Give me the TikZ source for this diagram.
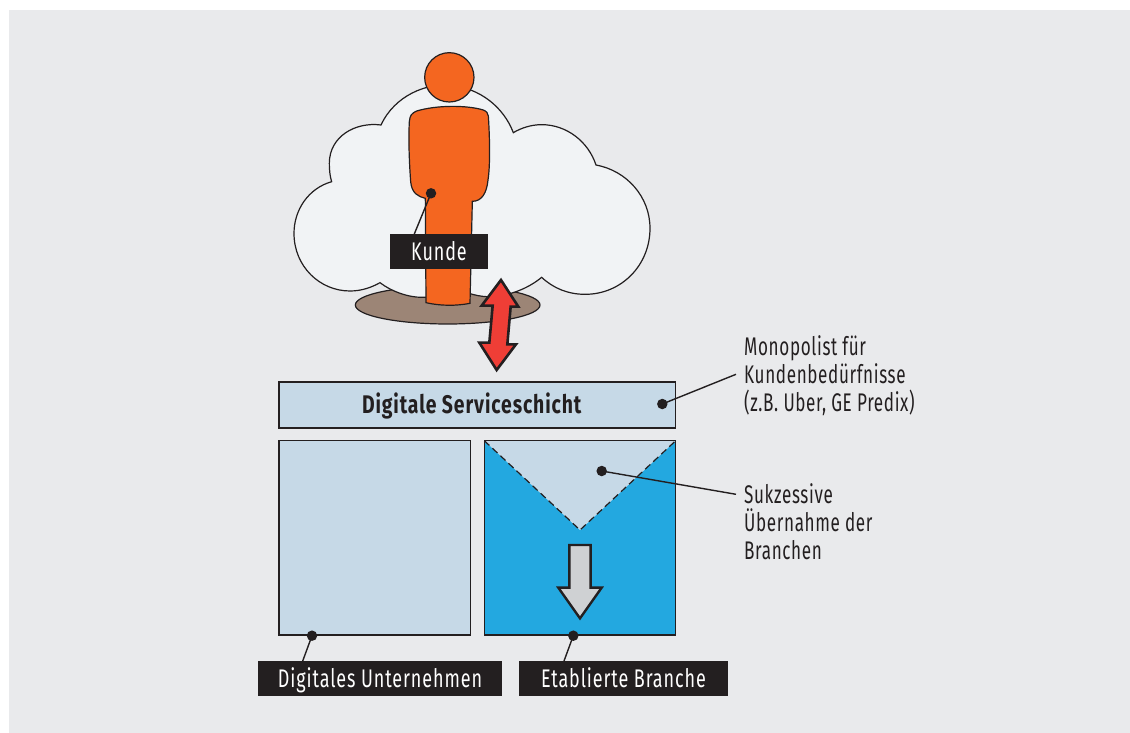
\documentclass[tikz,border=0pt]{standalone}
\usepackage{fontspec}
\setmainfont[FakeStretch=0.705,LetterSpace=3.5]{Fira Sans}
\newfontfamily\notefont[FakeStretch=0.67,LetterSpace=2.5]{Fira Sans}
\newfontfamily\headfont[FakeStretch=0.76,LetterSpace=3.5]{Fira Sans}
\definecolor{bgc}{HTML}{E9EAEC}
\definecolor{cloudc}{HTML}{F1F3F5}
\definecolor{orangec}{HTML}{F46620}
\definecolor{brownc}{HTML}{9C8576}
\definecolor{redc}{HTML}{EF3E36}
\definecolor{darkc}{HTML}{231F20}
\definecolor{paleb}{HTML}{C6D9E7}
\definecolor{blueb}{HTML}{23A8E0}
\definecolor{greyc}{HTML}{CFD1D3}
\tikzset{
  shapeline/.style={draw=darkc,line width=1.2pt},
  panel/.style={shapeline,fill=paleb},
  blackbox/.style={fill=darkc,text=white,inner sep=0pt,text height=21pt,text depth=3pt,font=\fontsize{25.5}{28}\selectfont},
  leader/.style={draw=darkc,line width=1.4pt},
  dotm/.style={circle,fill=darkc,inner sep=0pt,minimum size=10.5pt},
  note/.style={anchor=north west,inner sep=0pt,align=left,text=darkc,font=\notefont\fontsize{25.5}{28}\selectfont},
  zoomed/.style={shift={(280,30)},x=0.33333pt,y=-0.33333pt},
}
\begin{document}
\begin{tikzpicture}[x=1pt,y=-1pt]
\useasboundingbox (0,0) rectangle (1130,733);
\fill[bgc] (9,10) rectangle (1130,733);
\begin{scope}[zoomed]
  \draw[shapeline,fill=brownc] (503,825) ellipse [x radius=277,y radius=57];
  % cloud
  \draw[shapeline,fill=cloudc]
    (303,285) .. controls (225,275) and (148,320) .. (148,400)
    .. controls (148,420) and (150,440) .. (155,455)
    .. controls (85,475) and (42,540) .. (42,610)
    .. controls (42,710) and (120,783) .. (210,783)
    .. controls (245,783) and (275,772) .. (300,758)
    .. controls (335,785) and (385,802) .. (425,802)
    .. controls (460,802) and (500,790) .. (530,775)
    .. controls (560,790) and (600,802) .. (635,800)
    .. controls (690,797) and (745,775) .. (785,742)
    .. controls (820,775) and (865,793) .. (915,793)
    .. controls (1025,793) and (1110,705) .. (1110,595)
    .. controls (1110,500) and (1040,422) .. (948,405)
    .. controls (925,335) and (860,284) .. (785,284)
    .. controls (755,284) and (725,293) .. (700,308)
    .. controls (670,230) and (600,175) .. (510,165)
    .. controls (440,160) and (345,195) .. (303,285) -- cycle;
  % person
  \draw[shapeline,fill=orangec]
    (388,275) .. controls (390,255) and (395,250) .. (410,243)
    .. controls (470,225) and (560,225) .. (610,240)
    .. controls (620,244) and (624,250) .. (625,258)
    .. controls (628,300) and (632,400) .. (624,450)
    .. controls (620,490) and (605,514) .. (577,514)
    -- (570,820) .. controls (530,828) and (480,828) .. (438,818)
    -- (436,505) .. controls (415,500) and (395,490) .. (392,455)
    .. controls (388,400) and (385,330) .. (388,275) -- cycle;
  \draw[shapeline,fill=orangec] (508,142) circle [radius=74];
  % red double arrow
  \draw[draw=darkc,fill=redc,line width=2.6pt,miter limit=6]
    (663,750) -- (715,830) -- (692,830) -- (682,943) -- (708,943) -- (650,1020)
    -- (598,938) -- (628,938) -- (638,827) -- (605,827) -- cycle;
\end{scope}
% panels
\node[panel,anchor=north west,minimum width=396.5pt,minimum height=46pt,inner sep=0pt,outer sep=0pt] (service) at (279,382) {};
\node[inner sep=0pt,text=darkc,anchor=base,font=\headfont\bfseries\fontsize{25.5}{28}\selectfont] (servicetext) at (471.7,413) {Digitale Serviceschicht};
\node[panel,anchor=north west,minimum width=191.3pt,minimum height=194.3pt,inner sep=0pt,outer sep=0pt] (digital) at (279,440.7) {};
\node[shapeline,fill=blueb,anchor=north west,minimum width=191.4pt,minimum height=194.3pt,inner sep=0pt,outer sep=0pt] (branche) at (484.3,440.7) {};
\fill[paleb] (484.3,440.7) -- (675.7,440.7) -- (580,530) -- cycle;
\draw[draw=darkc,line width=1.2pt,dash pattern=on 7pt off 4pt] (484.3,440.7) -- (580,530) -- (675.7,440.7);
\draw[shapeline] (484.3,440.7) rectangle (675.7,635);
% grey arrow
\begin{scope}[shift={(250,430)},x=0.33333pt,y=-0.33333pt]
  \draw[draw=darkc,fill=greyc,line width=2.4pt,miter limit=6]
    (958,345) -- (1022,345) -- (1022,473) -- (1055,473) -- (990,565) -- (925,473) -- (958,473) -- cycle;
\end{scope}
% labels
\node[blackbox,minimum width=98pt,minimum height=35pt] (kunde) at (439,251.5) {Kunde};
\node[blackbox,minimum width=244pt,minimum height=35pt] (dunt) at (380,678.3) {Digitales Unternehmen};
\node[blackbox,minimum width=209pt,minimum height=35pt] (ebr) at (623.4,678.3) {Etablierte Branche};
\node[note] (monotext) at (744,335.5) {Monopolist für\\Kundenbedürfnisse\\(z.B. Uber, GE Predix)};
\node[note] (suktext) at (744,483) {Sukzessive\\Übernahme der\\Branchen};
% dots and leaders
\node[dotm] (dk) at (431,193.3) {};
\node[dotm] (dd) at (312,635.7) {};
\node[dotm] (de) at (573.3,635.7) {};
\node[dotm] (ds) at (662.3,404) {};
\node[dotm] (dv) at (601.7,471) {};
\coordinate (kk) at (414.3,234);
\coordinate (kd) at (302.7,661);
\coordinate (ke) at (564,661);
\coordinate (ks) at (736,374.3);
\coordinate (kv) at (736,494.3);
\draw[leader] (dk.center) -- (kk);
\draw[leader] (dd.center) -- (kd);
\draw[leader] (de.center) -- (ke);
\draw[leader] (ds.center) -- (ks);
\draw[leader] (dv.center) -- (kv);
\end{tikzpicture}
\end{document}
